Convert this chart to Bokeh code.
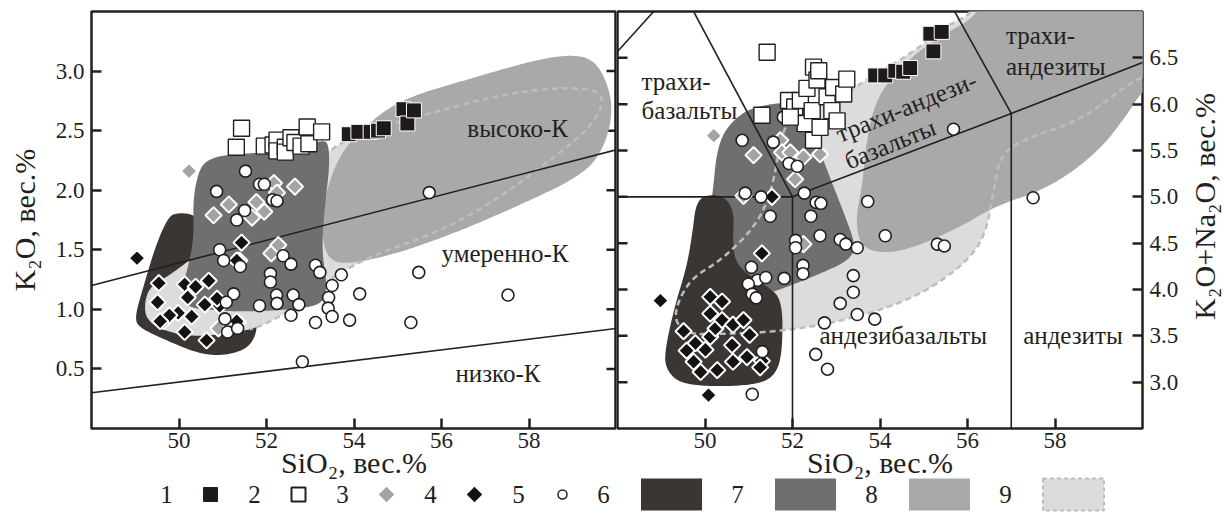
import math
import numpy as np
from bokeh.plotting import figure
from bokeh.models import Range1d, FixedTicker, PrintfTickFormatter, GridBox
from bokeh.embed import file_html
from bokeh.resources import INLINE
from bokeh.core.properties import value

FONT = "Liberation Serif"
INK = "#231f20"

# ---------------- K2O – SiO2 panel: sample groups ----------------
k_g1_sio2 = [53.88, 54.10, 54.38, 54.55, 54.68, 55.13, 55.22, 55.37]
k_g1_k2o = [2.47, 2.49, 2.49, 2.50, 2.52, 2.68, 2.56, 2.67]

k_g2_sio2 = [51.43, 51.31, 51.95, 52.15, 52.24, 52.24, 52.43, 52.43, 52.56, 52.65, 52.79, 52.93, 52.97, 53.26]
k_g2_k2o = [2.52, 2.36, 2.37, 2.38, 2.42, 2.33, 2.36, 2.32, 2.44, 2.40, 2.37, 2.53, 2.39, 2.49]

k_g3_sio2 = [50.23, 50.79, 51.14, 51.67, 51.77, 51.95, 52.17, 52.24, 52.65, 52.11, 52.27, 51.38, 50.90, 51.35, 49.65]
k_g3_k2o = [2.16, 1.79, 1.88, 1.77, 1.90, 1.82, 2.06, 1.98, 2.03, 1.47, 1.54, 1.41, 0.84, 0.89, 0.90]

k_g4_sio2 = [49.04, 49.54, 50.13, 50.68, 49.51, 49.98, 50.20, 50.59, 50.93, 50.29, 49.78, 50.13, 50.63,
             51.32, 51.43, 51.32, 49.57, 50.38, 50.87]
k_g4_k2o = [1.43, 1.22, 1.21, 1.24, 1.06, 0.97, 1.10, 1.04, 1.03, 0.94, 0.95, 0.81, 0.74,
            0.90, 1.56, 1.41, 0.90, 1.19, 1.09]

k_g5_sio2 = [51.52, 51.84, 51.95, 50.86, 52.14, 52.24, 51.50, 51.32, 50.93, 51.02, 51.40, 52.38, 52.56,
             52.09, 52.09, 52.23, 52.24, 52.61, 52.74, 51.84, 51.25, 51.08, 51.05, 51.11, 51.34, 52.56,
             53.12, 53.22, 53.50, 53.71, 53.42, 53.41, 53.50, 54.13, 53.90, 53.12, 55.72, 55.48, 57.52,
             55.30, 52.82]
k_g5_k2o = [2.16, 2.05, 2.05, 1.99, 1.92, 1.91, 1.83, 1.75, 1.50, 1.41, 1.36, 1.45, 1.38,
            1.30, 1.23, 1.12, 1.05, 1.12, 1.04, 1.03, 1.13, 1.06, 0.92, 0.81, 0.84, 0.95,
            1.37, 1.31, 1.20, 1.29, 1.10, 1.01, 0.94, 1.13, 0.91, 0.89, 1.98, 1.31, 1.12,
            0.89, 0.56]

# ---------------- TAS panel: sample groups ----------------
t_g1_sio2 = [53.89, 54.12, 54.35, 54.53, 54.69, 55.15, 55.22, 55.41]
t_g1_alk = [6.31, 6.31, 6.36, 6.35, 6.39, 6.76, 6.57, 6.78]

t_g2_sio2 = [51.42, 51.30, 51.91, 52.05, 52.18, 52.29, 52.33, 52.45, 52.48, 52.48, 52.56, 52.60, 52.63,
             52.79, 52.90, 52.94, 53.02, 53.17, 53.24, 51.95]
t_g2_alk = [6.56, 5.88, 6.04, 5.97, 6.04, 5.79, 6.17, 5.93, 5.61, 6.40, 6.26, 6.36, 5.75,
            6.08, 5.93, 6.18, 5.82, 6.11, 6.27, 5.86]

t_g3_sio2 = [50.20, 50.88, 51.11, 51.72, 51.76, 51.95, 52.06, 52.25, 52.63, 52.25]
t_g3_alk = [5.66, 5.01, 5.45, 5.61, 5.48, 5.48, 5.19, 5.43, 5.46, 4.49]

t_g4_sio2 = [48.98, 50.08, 51.53, 51.30, 50.12, 50.39, 49.51, 49.78, 50.12, 50.24, 50.39, 50.64, 50.88,
             51.02, 50.62, 50.01, 49.58, 49.74, 49.90, 50.28, 50.64, 51.30, 51.26, 50.96, 50.12]
t_g4_alk = [3.88, 2.86, 5.00, 4.39, 3.92, 3.87, 3.55, 3.42, 3.49, 3.58, 3.67, 3.62, 3.67,
            3.51, 3.40, 3.35, 3.34, 3.22, 3.11, 3.13, 3.22, 3.23, 3.16, 3.27, 3.74]

t_g5_sio2 = [50.85, 51.56, 51.92, 52.11, 50.92, 51.28, 52.27, 52.54, 52.65, 51.49, 52.42, 53.72, 52.63,
             53.09, 53.22, 53.48, 54.12, 55.31, 55.47, 52.07, 52.07, 52.24, 52.24, 51.06, 51.20, 51.39,
             50.99, 51.81, 51.08, 51.17, 53.39, 53.39, 53.09, 53.48, 53.88, 52.73, 52.53, 52.80, 51.08,
             51.31, 55.68, 57.50, 51.79]
t_g5_alk = [5.61, 5.59, 5.36, 5.33, 5.04, 5.00, 5.04, 4.94, 4.93, 4.79, 4.79, 4.95, 4.58,
            4.54, 4.49, 4.45, 4.58, 4.49, 4.47, 4.53, 4.45, 4.26, 4.17, 4.24, 4.10, 4.13,
            4.06, 4.12, 3.95, 3.91, 4.15, 3.97, 3.85, 3.73, 3.68, 3.64, 3.30, 3.14, 2.87,
            3.33, 5.73, 4.99, 5.86]

# ---------------- compositional fields (outline vertices) ----------------
f6_k_sio2 = [49.75, 49.93, 50.34, 50.61, 50.98, 51.52, 51.79, 51.75, 51.52, 50.98, 50.43, 49.71, 49.12, 48.98, 49.16, 49.48]
f6_k_k2o = [1.77, 1.81, 1.80, 1.69, 1.36, 1.08, 0.91, 0.77, 0.66, 0.61, 0.63, 0.74, 0.84, 0.92, 1.16, 1.55]

f7_k_sio2 = [50.43, 50.61, 51.07, 51.79, 52.79, 53.29, 53.42, 53.44, 53.33, 53.26, 53.38, 53.33, 53.06,
             52.24, 51.34, 50.61, 50.16, 50.07, 50.25, 50.34, 50.32]
f7_k_k2o = [2.14, 2.25, 2.30, 2.31, 2.37, 2.42, 2.39, 2.19, 1.86, 1.50, 1.22, 1.08, 1.02,
            0.99, 0.98, 1.00, 1.02, 1.19, 1.41, 1.64, 1.91]

f8_k_sio2 = [53.26, 53.30, 53.60, 54.06, 54.97, 56.50, 58.00, 58.90, 59.50, 59.85, 59.90, 59.68, 59.20,
             57.70, 56.30, 55.00, 53.90, 53.42]
f8_k_k2o = [1.62, 1.90, 2.25, 2.47, 2.75, 2.92, 3.08, 3.14, 3.10, 2.85, 2.60, 2.33, 2.12,
            1.86, 1.64, 1.47, 1.38, 1.41]

f9_k_sio2 = [49.21, 49.34, 49.71, 50.25, 51.79, 53.15, 53.42, 53.70, 54.51, 55.87, 57.23, 58.50, 59.50,
             59.73, 59.41, 58.59, 57.23, 55.87, 54.40, 53.50, 52.80, 52.20, 51.75, 51.16, 50.43, 49.71, 49.25]
f9_k_k2o = [1.06, 1.19, 1.27, 1.41, 1.91, 2.28, 2.32, 2.40, 2.52, 2.66, 2.79, 2.86, 2.85,
            2.75, 2.53, 2.28, 1.91, 1.64, 1.45, 1.27, 1.05, 0.92, 0.84, 0.80, 0.77, 0.81, 0.91]

f6_t_sio2 = [49.80, 50.12, 50.49, 50.67, 50.63, 50.72, 51.45, 51.77, 51.77, 51.63, 51.26, 50.35, 49.44,
             49.12, 49.07, 49.30, 49.58, 49.71]
f6_t_alk = [4.96, 5.03, 4.99, 4.82, 4.53, 4.24, 4.03, 3.88, 3.34, 3.09, 2.98, 2.95, 2.98,
            3.13, 3.31, 3.81, 4.24, 4.60]

f7_t_sio2 = [50.26, 50.44, 50.90, 51.45, 52.00, 52.36, 52.54, 52.82, 53.18, 53.46, 53.27, 52.73, 51.90,
             51.08, 50.35, 49.95, 49.95, 50.10, 50.19]
f7_t_alk = [5.46, 5.72, 5.93, 6.00, 6.02, 5.93, 5.61, 5.25, 4.82, 4.46, 4.31, 4.19, 4.03,
            3.90, 3.90, 4.10, 4.30, 4.80, 5.10]

f8_t_sio2 = [56.60, 56.45, 55.21, 54.46, 53.94, 53.71, 53.59, 53.43, 53.59, 54.46, 55.83, 56.58, 57.89,
             59.03, 59.71, 60.00, 61.00, 61.50, 58.00]
f8_t_alk = [7.80, 7.01, 6.69, 6.40, 6.08, 5.68, 5.10, 4.74, 4.42, 4.39, 4.67, 4.89, 5.10,
            5.50, 5.93, 6.15, 6.50, 8.00, 8.20]

f9_t_sio2 = [56.30, 56.21, 55.55, 54.70, 53.60, 53.09, 52.36, 51.90, 51.72, 51.63, 51.45, 51.08, 50.35,
             49.71, 49.39, 49.30, 49.58, 50.35, 51.45, 52.63, 54.00, 55.10, 56.01, 56.42, 56.61, 56.74,
             57.20, 58.57, 59.48, 60.08, 61.00, 61.50, 58.00]
f9_t_alk = [7.80, 6.99, 6.86, 6.54, 6.24, 6.06, 5.93, 5.82, 5.61, 5.32, 4.96, 4.64, 4.31,
            4.13, 3.88, 3.67, 3.52, 3.52, 3.54, 3.61, 3.77, 3.99, 4.31, 4.60, 5.10, 5.43,
            5.61, 5.82, 6.15, 6.32, 6.45, 8.00, 8.20]

# ---------------- classification boundaries ----------------
klines_sio2 = [[48, 60], [48, 60]]
klines_k2o = [[0.30, 0.84], [1.20, 2.34]]

tas_sio2 = [[45, 49.4], [49.4, 52], [45, 52], [52, 52], [52, 57, 63], [57, 57], [53, 57]]
tas_alk = [[5.0, 7.3], [7.3, 5.0], [5.0, 5.0], [0, 5.0], [5.0, 5.9, 7.0], [0, 5.9], [9.3, 5.9]]

k_field_names = ["высоко-К", "умеренно-К", "низко-К"]
k_field_x = [57.74, 57.45, 57.29]
k_field_y = [2.52, 1.47, 0.46]

tas_names = ["трахи-", "базальты", "трахи-", "андезиты", "андезибазальты", "андезиты"]
tas_names_x = [48.55, 48.55, 56.88, 56.88, 54.53, 58.41]
tas_names_y = [6.24, 5.93, 6.74, 6.41, 3.50, 3.50]
tas_names_align = ["left", "left", "left", "left", "center", "center"]

tas_tilted = ["трахи-андези-", "базальты"]
tas_tilted_x = [54.60, 54.23]
tas_tilted_y = [5.97, 5.57]

k_yticks = [0.5, 1.0, 1.5, 2.0, 2.5, 3.0]
t_yticks = [3.0, 3.5, 4.0, 4.5, 5.0, 5.5, 6.0, 6.5]
sio2_ticks = [50, 52, 54, 56, 58]

x_title = "SiO₂, вес.%"
legend_numbers = ["1", "2", "3", "4", "5", "6", "7", "8", "9"]

C_DARK, C_MID, C_LIGHT, C_PALE, C_DASH = "#3a3634", "#6f6f6f", "#a9a9a9", "#dcdcdc", "#bdbdbd"

# page geometry (pixels)
PAGE_W, PAGE_H = 1225, 526
TOP_H = 488          # panels with ticks and axis titles
STRIP_TOP = 440      # the legend strip overlaps the panels' bottom margin from here on
LEFT_B = 91          # left margin in front of the left frame
LEFT_W = 616         # left panel incl. its y axis
MID_W = 565          # right panel incl. its tick labels
RT_W = PAGE_W - LEFT_W - MID_W


def chaikin(xs, ys, n=4):
    x = np.asarray(xs, float)
    y = np.asarray(ys, float)
    for _ in range(n):
        xn, yn = np.roll(x, -1), np.roll(y, -1)
        x = np.column_stack([0.75 * x + 0.25 * xn, 0.25 * x + 0.75 * xn]).ravel()
        y = np.column_stack([0.75 * y + 0.25 * yn, 0.25 * y + 0.75 * yn]).ravel()
    return list(x), list(y)


def field(p, xs, ys, color):
    sx, sy = chaikin(xs, ys)
    p.patch(sx, sy, fill_color=color, line_color=None)


def dashed_outline(p, xs, ys, x_from=None):
    sx, sy = chaikin(xs, ys)
    sx, sy = np.array(sx + sx[:1]), np.array(sy + sy[:1])
    if x_from is not None:
        sy = np.where(sx < x_from, np.nan, sy)
    p.line(sx, sy, line_color=C_DASH, line_width=2.5, line_dash="6 4")


def style_axis(ax, standoff):
    ax.axis_line_color = None
    ax.major_tick_in = 10
    ax.major_tick_out = 0
    ax.major_tick_line_color = INK
    ax.major_tick_line_width = 2.5
    ax.minor_tick_line_color = None
    ax.major_label_text_font = FONT
    ax.major_label_text_color = INK
    ax.major_label_text_font_size = "23px"
    ax.major_label_standoff = standoff
    ax.axis_label_text_font = FONT
    ax.axis_label_text_font_style = "normal"
    ax.axis_label_text_color = INK
    ax.axis_label_text_font_size = "30px"


def panel(y0, y1, yticks, side, frame_w, b_left, b_right):
    p = figure(x_range=Range1d(48, 60), y_range=Range1d(y0, y1),
               frame_width=frame_w, frame_height=417,
               min_border_left=b_left, min_border_right=b_right,
               min_border_top=11, min_border_bottom=TOP_H - 428,
               y_axis_location=side, output_backend="svg", toolbar_location=None)
    p.xgrid.visible = False
    p.ygrid.visible = False
    p.background_fill_color = "white"
    p.border_fill_color = "white"
    p.outline_line_color = INK
    p.outline_line_width = 2.5
    xa, ya = p.xaxis[0], p.yaxis[0]
    style_axis(xa, 4)
    style_axis(ya, 7)
    xa.ticker = FixedTicker(ticks=sio2_ticks)
    xa.formatter = PrintfTickFormatter(format="%d")
    xa.axis_label = x_title
    xa.axis_label_standoff = -5
    ya.ticker = FixedTicker(ticks=yticks)
    ya.formatter = PrintfTickFormatter(format="%.1f")
    # inward ticks on the opposite vertical edge of the frame
    edge, ang = (60, math.pi) if side == "left" else (48, 0.0)
    p.ray([edge] * len(yticks), yticks, length=10, length_units="screen", angle=ang,
          line_color=INK, line_width=2.5)
    return p


def samples(p, gx, gy):
    (x1, x2, x3, x4, x5), (y1, y2, y3, y4, y5) = gx, gy
    p.scatter(x3, y3, marker="square", angle=math.pi / 4, size=11.5,
              fill_color="#a3a3a3", line_color="white", line_width=2)
    p.scatter(x4, y4, marker="square", angle=math.pi / 4, size=11.5,
              fill_color="#141213", line_color="white", line_width=2)
    p.scatter(x5, y5, marker="circle", size=12, fill_color="white", line_color=INK, line_width=1.6)
    p.scatter(x2, y2, marker="square", size=16, fill_color="white", line_color=INK, line_width=1.4)
    p.scatter(x1, y1, marker="square", size=15, fill_color="#1e1a1a", line_color="white", line_width=1)


def blank(width, height, x0=0, transparent=False):
    # a plain drawing surface whose x coordinate equals the page pixel column
    f = figure(width=width, height=height, x_range=Range1d(x0, width), y_range=Range1d(0, height),
               x_axis_type=None, y_axis_type=None, min_border=0, min_border_left=x0,
               output_backend="svg", toolbar_location=None)
    f.grid.visible = False
    f.outline_line_color = None
    alpha = 0.0 if transparent else 1.0
    f.background_fill_color = "white"
    f.background_fill_alpha = alpha
    f.border_fill_color = "white"
    f.border_fill_alpha = alpha
    return f


# ---------------- left panel: K2O vs SiO2 ----------------
pk = panel(0, 3.5, k_yticks, "left", 525, LEFT_B, 0)
pk.yaxis[0].axis_label = "K₂O, вес.%"
pk.yaxis[0].axis_label_standoff = 12
field(pk, f6_k_sio2, f6_k_k2o, C_DARK)
field(pk, f9_k_sio2, f9_k_k2o, C_PALE)
field(pk, f8_k_sio2, f8_k_k2o, C_LIGHT)
dashed_outline(pk, f9_k_sio2, f9_k_k2o, x_from=51.6)
field(pk, f7_k_sio2, f7_k_k2o, C_MID)
pk.multi_line(klines_sio2, klines_k2o, line_color=INK, line_width=1.6)
pk.text(k_field_x, k_field_y, text=k_field_names, text_font=value(FONT), text_font_size="25px",
        text_color=INK, text_align="center", text_baseline="middle")
samples(pk, (k_g1_sio2, k_g2_sio2, k_g3_sio2, k_g4_sio2, k_g5_sio2),
        (k_g1_k2o, k_g2_k2o, k_g3_k2o, k_g4_k2o, k_g5_k2o))

# ---------------- right panel: total alkali vs SiO2 ----------------
pt = panel(2.5, 7.0, t_yticks, "right", 526, 1, MID_W - 527)
field(pt, f9_t_sio2, f9_t_alk, C_PALE)
field(pt, f7_t_sio2, f7_t_alk, C_MID)
field(pt, f8_t_sio2, f8_t_alk, C_LIGHT)
field(pt, f6_t_sio2, f6_t_alk, C_DARK)
dashed_outline(pt, f9_t_sio2, f9_t_alk)
pt.multi_line(tas_sio2, tas_alk, line_color=INK, line_width=1.6)
pt.text(tas_names_x, tas_names_y, text=tas_names, text_font=value(FONT), text_font_size="25px",
        text_color=INK, text_align=tas_names_align, text_baseline="middle")
pt.text(tas_tilted_x, tas_tilted_y, text=tas_tilted, text_font=value(FONT), text_font_size="25px",
        text_color=INK, text_align="center", text_baseline="middle", angle=math.radians(22))
samples(pt, (t_g1_sio2, t_g2_sio2, t_g3_sio2, t_g4_sio2, t_g5_sio2),
        (t_g1_alk, t_g2_alk, t_g3_alk, t_g4_alk, t_g5_alk))

# ---------------- right-hand axis title (reads bottom to top) ----------------
rt = blank(RT_W, TOP_H)
rt.text([RT_W / 2 + 1], [TOP_H - 228], text=["K₂O+Na₂O, вес.%"], text_font=value(FONT),
        text_font_size="30px", text_color=INK, text_align="center", text_baseline="middle",
        angle=math.pi / 2)

# ---------------- legend strip (transparent, laid over the bottom margin) ----------------
LEG_H = PAGE_H - STRIP_TOP
lg = blank(PAGE_W, LEG_H, x0=LEFT_B, transparent=True)
cy = PAGE_H - 494
num_x = [166 + 88 * i for i in range(5)] + [603 + 134 * j for j in range(4)]
lg.text(num_x, [cy] * 9, text=legend_numbers, text_font=value(FONT), text_font_size="25px",
        text_color=INK, text_align="center", text_baseline="middle")
sym_x = [x + 44 for x in num_x[:5]]
lg.scatter(sym_x[0:1], [cy], marker="square", size=14, fill_color="#1e1a1a", line_color=INK, line_width=1)
lg.scatter(sym_x[1:2], [cy], marker="square", size=14, fill_color="white", line_color=INK, line_width=2)
lg.scatter(sym_x[2:3], [cy], marker="square", angle=math.pi / 4, size=11, fill_color="#a3a3a3", line_color=None)
lg.scatter(sym_x[3:4], [cy], marker="square", angle=math.pi / 4, size=11, fill_color="#141213", line_color=None)
lg.scatter(sym_x[4:5], [cy], marker="circle", size=9, fill_color="white", line_color=INK, line_width=1.5)
sw_x = [x + 68 for x in num_x[5:]]
lg.rect(sw_x[:3], [cy] * 3, width=61, height=32, fill_color=[C_DARK, C_MID, C_LIGHT], line_color=None)
lg.rect(sw_x[3:], [cy], width=61, height=32, fill_color=C_PALE, line_color=C_DASH, line_width=2,
        line_dash="4 3")

grid = GridBox(
    children=[(pk, 0, 0, 2, 1), (pt, 0, 1, 2, 1), (rt, 0, 2, 2, 1), (lg, 1, 0, 2, 3)],
    rows=[f"{STRIP_TOP}px", f"{TOP_H - STRIP_TOP}px", f"{PAGE_H - TOP_H}px"],
    cols=[f"{LEFT_W}px", f"{MID_W}px", f"{RT_W}px"],
    spacing=0,
)
open("out.html", "w").write(file_html(grid, INLINE, "K2O & TAS"))
